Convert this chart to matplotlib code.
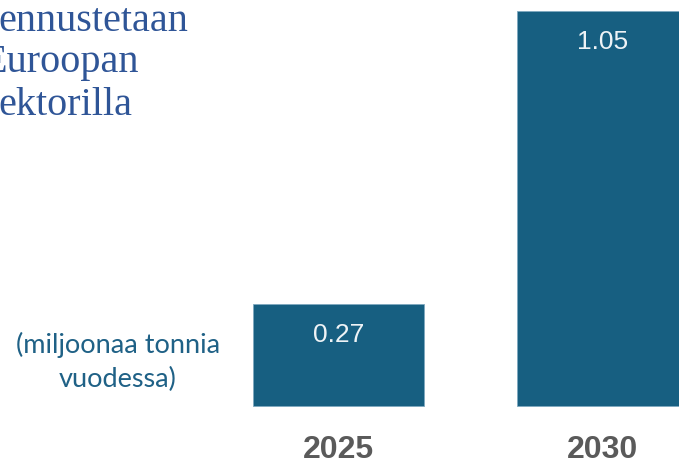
import matplotlib.pyplot as plt

# data
years = ['2025', '2030']
values = [0.27, 1.05]
value_labels = ['0.27', '1.05']
title_lines = ['ennustetaan', 'Euroopan', 'ektorilla']
unit_label = '(miljoonaa tonnia\nvuodessa)'

bar_color = '#175f81'

fig = plt.figure(figsize=(6.79, 4.65), dpi=100)
ax = fig.add_axes([0, 0, 1, 1])
ax.set_xlim(-1.282, 1.290)
ax.set_ylim(-0.157, 1.079)
ax.axis('off')

x = list(range(len(years)))
bars = ax.bar(x, values, width=0.648, color=bar_color, edgecolor='#7fa9c0', linewidth=0.6)

for xi, v, lab in zip(x, values, value_labels):
    ax.annotate(lab, (xi, v), xytext=(0, -31), textcoords='offset pixels',
                ha='center', va='center', color='#eef3f6', fontsize=19,
                family='Liberation Sans')

for xi, yr in zip(x, years):
    ax.annotate(yr, (xi, 0), xytext=(0, -44), textcoords='offset pixels',
                ha='center', va='center', color='#5a5a5a', fontsize=23,
                fontweight='bold', family='Liberation Sans')

# title fragment (cut off at the left in the original)
title_x = [-2, -17, -2]
title_y = [31, 72, 115]
for t, px, py in zip(title_lines, title_x, title_y):
    fig.text(px / 679, 1 - py / 465, t, ha='left', va='baseline',
             color='#2f5597', fontsize=29, family='Liberation Serif')

fig.text(118 / 679, 1 - 362 / 465, unit_label, ha='center', va='center',
         color='#1f6186', fontsize=19.5, family='Lato', linespacing=1.42)

fig.savefig('out.png', dpi=100)
